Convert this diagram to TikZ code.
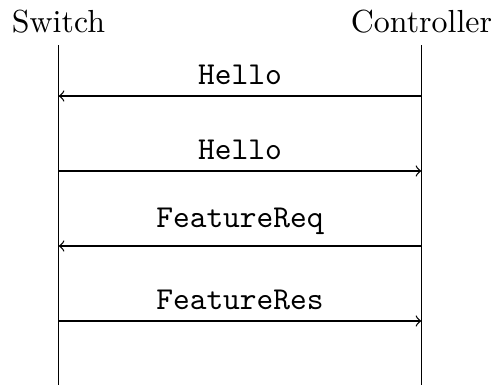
\documentclass[tikz,border=0pt]{standalone}
\begin{document}
\begin{tikzpicture}[x=0.01102cm,y=-0.01102cm,
  party/.style={anchor=base,inner sep=0pt},
  lifeline/.style={draw,line width=0.4pt},
  msg/.style={draw,->,line width=0.4pt},
  msglabel/.style={above,font=\ttfamily}]
\useasboundingbox (0,0) rectangle (491,385);
% participants
\node[party] (sw) at (58.5,32) {Switch};
\node[party] (ct) at (421.5,32) {Controller};
% lifelines
\coordinate (swtop) at (58.5,45);
\coordinate (swbot) at (58.5,385);
\coordinate (cttop) at (421.5,45);
\coordinate (ctbot) at (421.5,385);
\draw[lifeline] (swtop) -- (swbot);
\draw[lifeline] (cttop) -- (ctbot);
% message endpoints
\foreach \i/\y in {1/96,2/171,3/246,4/321}{
  \coordinate (s\i) at (58.5,\y);
  \coordinate (c\i) at (421.5,\y);
}
% messages
\draw[msg] (c1) -- node[msglabel] (m1) {Hello} (s1);
\draw[msg] (s2) -- node[msglabel] (m2) {Hello} (c2);
\draw[msg] (c3) -- node[msglabel] (m3) {FeatureReq} (s3);
\draw[msg] (s4) -- node[msglabel] (m4) {FeatureRes} (c4);
\end{tikzpicture}
\end{document}
